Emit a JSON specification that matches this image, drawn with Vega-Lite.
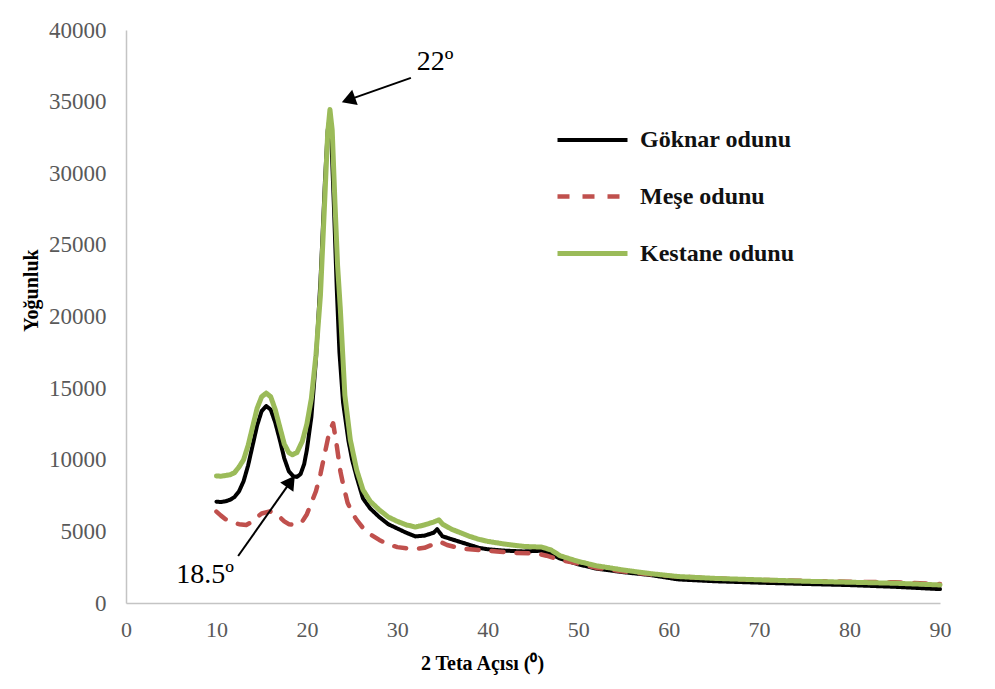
{
  "$schema": "https://vega.github.io/schema/vega-lite/v6.json",
  "autosize": "none",
  "width": 814,
  "height": 573,
  "padding": {"left": 126, "top": 30, "right": 55, "bottom": 86},
  "background": "white",
  "config": {
    "view": {"stroke": null},
    "font": "Liberation Serif",
    "text": {"font": "Liberation Serif"},
    "axis": {
      "grid": false,
      "ticks": false,
      "labelFlush": false,
      "domainColor": "#c4c4c4",
      "domainWidth": 1.5,
      "labelColor": "#595959",
      "labelFont": "Liberation Serif",
      "titleFont": "Liberation Serif",
      "titleFontWeight": "bold",
      "titleColor": "#000000"
    },
    "legend": {"labelFont": "Liberation Serif"}
  },
  "datasets": {
    "lines": [
      {"s": "Göknar odunu", "x": 10, "y": 7070}, {"s": "Göknar odunu", "x": 10.5, "y": 7050}, {"s": "Göknar odunu", "x": 11, "y": 7100}, {"s": "Göknar odunu", "x": 11.5, "y": 7200}, {"s": "Göknar odunu", "x": 12, "y": 7400}, {"s": "Göknar odunu", "x": 12.5, "y": 7800}, {"s": "Göknar odunu", "x": 13, "y": 8500}, {"s": "Göknar odunu", "x": 13.5, "y": 9600}, {"s": "Göknar odunu", "x": 14, "y": 11000}, {"s": "Göknar odunu", "x": 14.5, "y": 12400}, {"s": "Göknar odunu", "x": 15, "y": 13400}, {"s": "Göknar odunu", "x": 15.5, "y": 13750}, {"s": "Göknar odunu", "x": 16, "y": 13500}, {"s": "Göknar odunu", "x": 16.5, "y": 12600}, {"s": "Göknar odunu", "x": 17, "y": 11400}, {"s": "Göknar odunu", "x": 17.5, "y": 10100}, {"s": "Göknar odunu", "x": 18, "y": 9200}, {"s": "Göknar odunu", "x": 18.5, "y": 8850}, {"s": "Göknar odunu", "x": 18.9, "y": 8800}, {"s": "Göknar odunu", "x": 19.3, "y": 9000}, {"s": "Göknar odunu", "x": 19.7, "y": 9700}, {"s": "Göknar odunu", "x": 20, "y": 10700}, {"s": "Göknar odunu", "x": 20.5, "y": 13000}, {"s": "Göknar odunu", "x": 21, "y": 17000}, {"s": "Göknar odunu", "x": 21.5, "y": 22500}, {"s": "Göknar odunu", "x": 22, "y": 29500}, {"s": "Göknar odunu", "x": 22.3, "y": 33000}, {"s": "Göknar odunu", "x": 22.5, "y": 33800}, {"s": "Göknar odunu", "x": 22.7, "y": 32500}, {"s": "Göknar odunu", "x": 23, "y": 27500}, {"s": "Göknar odunu", "x": 23.3, "y": 22000}, {"s": "Göknar odunu", "x": 23.6, "y": 17500}, {"s": "Göknar odunu", "x": 24, "y": 14000}, {"s": "Göknar odunu", "x": 24.6, "y": 11300}, {"s": "Göknar odunu", "x": 25, "y": 10000}, {"s": "Göknar odunu", "x": 25.5, "y": 8800}, {"s": "Göknar odunu", "x": 26.2, "y": 7300}, {"s": "Göknar odunu", "x": 27, "y": 6600}, {"s": "Göknar odunu", "x": 28, "y": 6000}, {"s": "Göknar odunu", "x": 29, "y": 5500}, {"s": "Göknar odunu", "x": 30, "y": 5200}, {"s": "Göknar odunu", "x": 31, "y": 4900}, {"s": "Göknar odunu", "x": 32, "y": 4650}, {"s": "Göknar odunu", "x": 33, "y": 4700}, {"s": "Göknar odunu", "x": 34, "y": 4900}, {"s": "Göknar odunu", "x": 34.4, "y": 5150}, {"s": "Göknar odunu", "x": 35, "y": 4650}, {"s": "Göknar odunu", "x": 36, "y": 4450}, {"s": "Göknar odunu", "x": 37, "y": 4250}, {"s": "Göknar odunu", "x": 38, "y": 4050}, {"s": "Göknar odunu", "x": 39, "y": 3850}, {"s": "Göknar odunu", "x": 40, "y": 3750}, {"s": "Göknar odunu", "x": 42, "y": 3650}, {"s": "Göknar odunu", "x": 44, "y": 3600}, {"s": "Göknar odunu", "x": 46, "y": 3650}, {"s": "Göknar odunu", "x": 47, "y": 3400}, {"s": "Göknar odunu", "x": 48, "y": 3100}, {"s": "Göknar odunu", "x": 50, "y": 2700}, {"s": "Göknar odunu", "x": 52, "y": 2400}, {"s": "Göknar odunu", "x": 55, "y": 2150}, {"s": "Göknar odunu", "x": 58, "y": 1950}, {"s": "Göknar odunu", "x": 61, "y": 1650}, {"s": "Göknar odunu", "x": 65, "y": 1520}, {"s": "Göknar odunu", "x": 70, "y": 1420}, {"s": "Göknar odunu", "x": 75, "y": 1330}, {"s": "Göknar odunu", "x": 80, "y": 1250}, {"s": "Göknar odunu", "x": 85, "y": 1130}, {"s": "Göknar odunu", "x": 90, "y": 970},

      {"s": "Meşe odunu", "x": 10, "y": 6380}, {"s": "Meşe odunu", "x": 10.5, "y": 6100}, {"s": "Meşe odunu", "x": 11, "y": 5850}, {"s": "Meşe odunu", "x": 11.5, "y": 5700}, {"s": "Meşe odunu", "x": 12, "y": 5600}, {"s": "Meşe odunu", "x": 12.5, "y": 5500}, {"s": "Meşe odunu", "x": 13.3, "y": 5450}, {"s": "Meşe odunu", "x": 14, "y": 5700}, {"s": "Meşe odunu", "x": 14.5, "y": 6000}, {"s": "Meşe odunu", "x": 15, "y": 6250}, {"s": "Meşe odunu", "x": 15.9, "y": 6400}, {"s": "Meşe odunu", "x": 16.5, "y": 6250}, {"s": "Meşe odunu", "x": 17, "y": 6000}, {"s": "Meşe odunu", "x": 17.5, "y": 5700}, {"s": "Meşe odunu", "x": 18, "y": 5500}, {"s": "Meşe odunu", "x": 18.9, "y": 5450}, {"s": "Meşe odunu", "x": 19.5, "y": 5700}, {"s": "Meşe odunu", "x": 20, "y": 6200}, {"s": "Meşe odunu", "x": 20.5, "y": 7000}, {"s": "Meşe odunu", "x": 21, "y": 7800}, {"s": "Meşe odunu", "x": 21.5, "y": 9000}, {"s": "Meşe odunu", "x": 22, "y": 10500}, {"s": "Meşe odunu", "x": 22.5, "y": 12000}, {"s": "Meşe odunu", "x": 22.9, "y": 12550}, {"s": "Meşe odunu", "x": 23.3, "y": 11000}, {"s": "Meşe odunu", "x": 23.7, "y": 9200}, {"s": "Meşe odunu", "x": 24, "y": 8300}, {"s": "Meşe odunu", "x": 24.5, "y": 7000}, {"s": "Meşe odunu", "x": 25, "y": 6300}, {"s": "Meşe odunu", "x": 25.5, "y": 5800}, {"s": "Meşe odunu", "x": 26.5, "y": 5000}, {"s": "Meşe odunu", "x": 28, "y": 4400}, {"s": "Meşe odunu", "x": 29, "y": 4100}, {"s": "Meşe odunu", "x": 30, "y": 3900}, {"s": "Meşe odunu", "x": 31.8, "y": 3750}, {"s": "Meşe odunu", "x": 33, "y": 3850}, {"s": "Meşe odunu", "x": 34, "y": 4100}, {"s": "Meşe odunu", "x": 34.7, "y": 4280}, {"s": "Meşe odunu", "x": 35.5, "y": 4050}, {"s": "Meşe odunu", "x": 37, "y": 3800}, {"s": "Meşe odunu", "x": 39, "y": 3700}, {"s": "Meşe odunu", "x": 41, "y": 3600}, {"s": "Meşe odunu", "x": 43, "y": 3500}, {"s": "Meşe odunu", "x": 45.5, "y": 3450}, {"s": "Meşe odunu", "x": 46.5, "y": 3300}, {"s": "Meşe odunu", "x": 48, "y": 3000}, {"s": "Meşe odunu", "x": 50, "y": 2750}, {"s": "Meşe odunu", "x": 52, "y": 2450}, {"s": "Meşe odunu", "x": 55, "y": 2200}, {"s": "Meşe odunu", "x": 58, "y": 2000}, {"s": "Meşe odunu", "x": 61, "y": 1850}, {"s": "Meşe odunu", "x": 65, "y": 1720}, {"s": "Meşe odunu", "x": 70, "y": 1620}, {"s": "Meşe odunu", "x": 75, "y": 1540}, {"s": "Meşe odunu", "x": 80, "y": 1480}, {"s": "Meşe odunu", "x": 85, "y": 1450}, {"s": "Meşe odunu", "x": 90, "y": 1330},

      {"s": "Kestane odunu", "x": 10, "y": 8870}, {"s": "Kestane odunu", "x": 10.5, "y": 8850}, {"s": "Kestane odunu", "x": 11, "y": 8900}, {"s": "Kestane odunu", "x": 11.5, "y": 8950}, {"s": "Kestane odunu", "x": 12, "y": 9100}, {"s": "Kestane odunu", "x": 12.5, "y": 9500}, {"s": "Kestane odunu", "x": 13, "y": 10000}, {"s": "Kestane odunu", "x": 13.5, "y": 11000}, {"s": "Kestane odunu", "x": 14, "y": 12300}, {"s": "Kestane odunu", "x": 14.5, "y": 13600}, {"s": "Kestane odunu", "x": 15, "y": 14400}, {"s": "Kestane odunu", "x": 15.5, "y": 14650}, {"s": "Kestane odunu", "x": 16, "y": 14400}, {"s": "Kestane odunu", "x": 16.5, "y": 13500}, {"s": "Kestane odunu", "x": 17, "y": 12300}, {"s": "Kestane odunu", "x": 17.5, "y": 11100}, {"s": "Kestane odunu", "x": 18, "y": 10500}, {"s": "Kestane odunu", "x": 18.4, "y": 10350}, {"s": "Kestane odunu", "x": 18.9, "y": 10500}, {"s": "Kestane odunu", "x": 19.5, "y": 11300}, {"s": "Kestane odunu", "x": 20, "y": 12500}, {"s": "Kestane odunu", "x": 20.5, "y": 14300}, {"s": "Kestane odunu", "x": 21, "y": 17300}, {"s": "Kestane odunu", "x": 21.5, "y": 21500}, {"s": "Kestane odunu", "x": 22, "y": 28500}, {"s": "Kestane odunu", "x": 22.3, "y": 32800}, {"s": "Kestane odunu", "x": 22.55, "y": 34450}, {"s": "Kestane odunu", "x": 22.8, "y": 33000}, {"s": "Kestane odunu", "x": 23.1, "y": 28000}, {"s": "Kestane odunu", "x": 23.4, "y": 23500}, {"s": "Kestane odunu", "x": 23.7, "y": 20500}, {"s": "Kestane odunu", "x": 24.2, "y": 14500}, {"s": "Kestane odunu", "x": 24.8, "y": 11400}, {"s": "Kestane odunu", "x": 25.5, "y": 9300}, {"s": "Kestane odunu", "x": 26.2, "y": 7900}, {"s": "Kestane odunu", "x": 27, "y": 7100}, {"s": "Kestane odunu", "x": 28, "y": 6500}, {"s": "Kestane odunu", "x": 29, "y": 6000}, {"s": "Kestane odunu", "x": 30, "y": 5700}, {"s": "Kestane odunu", "x": 31, "y": 5450}, {"s": "Kestane odunu", "x": 32, "y": 5300}, {"s": "Kestane odunu", "x": 33, "y": 5450}, {"s": "Kestane odunu", "x": 34, "y": 5650}, {"s": "Kestane odunu", "x": 34.6, "y": 5800}, {"s": "Kestane odunu", "x": 35, "y": 5500}, {"s": "Kestane odunu", "x": 36, "y": 5150}, {"s": "Kestane odunu", "x": 37, "y": 4900}, {"s": "Kestane odunu", "x": 38, "y": 4650}, {"s": "Kestane odunu", "x": 39, "y": 4450}, {"s": "Kestane odunu", "x": 40, "y": 4300}, {"s": "Kestane odunu", "x": 42, "y": 4100}, {"s": "Kestane odunu", "x": 44, "y": 3950}, {"s": "Kestane odunu", "x": 46, "y": 3900}, {"s": "Kestane odunu", "x": 47, "y": 3700}, {"s": "Kestane odunu", "x": 48, "y": 3300}, {"s": "Kestane odunu", "x": 50, "y": 2900}, {"s": "Kestane odunu", "x": 52, "y": 2600}, {"s": "Kestane odunu", "x": 55, "y": 2300}, {"s": "Kestane odunu", "x": 58, "y": 2050}, {"s": "Kestane odunu", "x": 61, "y": 1850}, {"s": "Kestane odunu", "x": 65, "y": 1720}, {"s": "Kestane odunu", "x": 70, "y": 1620}, {"s": "Kestane odunu", "x": 75, "y": 1520}, {"s": "Kestane odunu", "x": 80, "y": 1450}, {"s": "Kestane odunu", "x": 85, "y": 1380}, {"s": "Kestane odunu", "x": 90, "y": 1260}
    ]
  },
  "layer": [
    {
      "data": {"name": "lines"},
      "mark": {"type": "line", "strokeCap": "round", "strokeJoin": "round"},
      "encoding": {
        "x": {
          "field": "x", "type": "quantitative",
          "scale": {"domain": [0, 90], "nice": false, "zero": false},
          "axis": {
            "values": [0, 10, 20, 30, 40, 50, 60, 70, 80, 90],
            "labelFont": "Liberation Serif", "titleFont": "Liberation Serif",
            "labelFontSize": 22, "labelPadding": 16, "labelFlush": false,
            "title": "2 Teta Açısı (⁰)", "titleFontSize": 20,
            "titleX": 356, "titleY": 60, "titleBaseline": "middle", "titleAnchor": "start", "titleAlign": "center"
          }
        },
        "y": {
          "field": "y", "type": "quantitative",
          "scale": {"domain": [0, 40000], "nice": false},
          "axis": {
            "values": [0, 5000, 10000, 15000, 20000, 25000, 30000, 35000, 40000],
            "labelFont": "Liberation Serif", "titleFont": "Liberation Serif",
            "format": "d", "labelFontSize": 23, "labelPadding": 20, "labelFlush": false,
            "title": "Yoğunluk", "titleFontSize": 20,
            "titleX": -95, "titleY": 260, "titleAngle": -90, "titleBaseline": "middle", "titleAlign": "center"
          }
        },
        "color": {
          "field": "s", "type": "nominal",
          "scale": {"domain": ["Göknar odunu", "Meşe odunu", "Kestane odunu"], "range": ["#000000", "#c0504d", "#9bbb59"]},
          "legend": {
            "title": null, "orient": "none", "legendX": 429, "legendY": 73,
            "symbolType": "stroke", "symbolSize": 4900, "rowPadding": 7,
            "labelFontSize": 24, "labelFontWeight": "bold", "labelColor": "#111111", "labelOffset": 10,
            "labelFont": "Liberation Serif"
          }
        },
        "strokeDash": {
          "field": "s", "type": "nominal",
          "scale": {"domain": ["Göknar odunu", "Meşe odunu", "Kestane odunu"], "range": [[1, 0], [12, 13], [1, 0]]},
          "legend": null
        },
        "strokeWidth": {
          "field": "s", "type": "nominal",
          "scale": {"domain": ["Göknar odunu", "Meşe odunu", "Kestane odunu"], "range": [4, 5, 4]},
          "legend": null
        },
        "order": {"field": "x", "type": "quantitative"}
      }
    },
    {
      "data": {"values": [{"x1": 31.5, "y1": 36660, "x2": 24.59, "y2": 35126}, {"x1": 12.4, "y1": 3280, "x2": 18.22, "y2": 8492}]},
      "mark": {"type": "rule", "color": "#000000", "strokeWidth": 2},
      "encoding": {
        "x": {"field": "x1", "type": "quantitative"},
        "y": {"field": "y1", "type": "quantitative"},
        "x2": {"field": "x2"},
        "y2": {"field": "y2"}
      }
    },
    {
      "data": {"values": [{"x": 24.59, "y": 35126}]},
      "mark": {"type": "point", "shape": "triangle-up", "filled": true, "color": "#000000", "opacity": 1, "size": 260, "angle": 250},
      "encoding": {
        "x": {"field": "x", "type": "quantitative"},
        "y": {"field": "y", "type": "quantitative"}
      }
    },
    {
      "data": {"values": [{"x": 18.22, "y": 8492}]},
      "mark": {"type": "point", "shape": "triangle-up", "filled": true, "color": "#000000", "opacity": 1, "size": 260, "angle": 35},
      "encoding": {
        "x": {"field": "x", "type": "quantitative"},
        "y": {"field": "y", "type": "quantitative"}
      }
    },
    {
      "data": {"values": [{"x": 34.17, "y": 37780, "t": "22º"}, {"x": 8.74, "y": 1955, "t": "18.5º"}]},
      "mark": {"type": "text", "font": "Liberation Serif", "fontSize": 28, "color": "#000000", "align": "center", "baseline": "middle"},
      "encoding": {
        "x": {"field": "x", "type": "quantitative"},
        "y": {"field": "y", "type": "quantitative"},
        "text": {"field": "t"}
      }
    }
  ]
}
